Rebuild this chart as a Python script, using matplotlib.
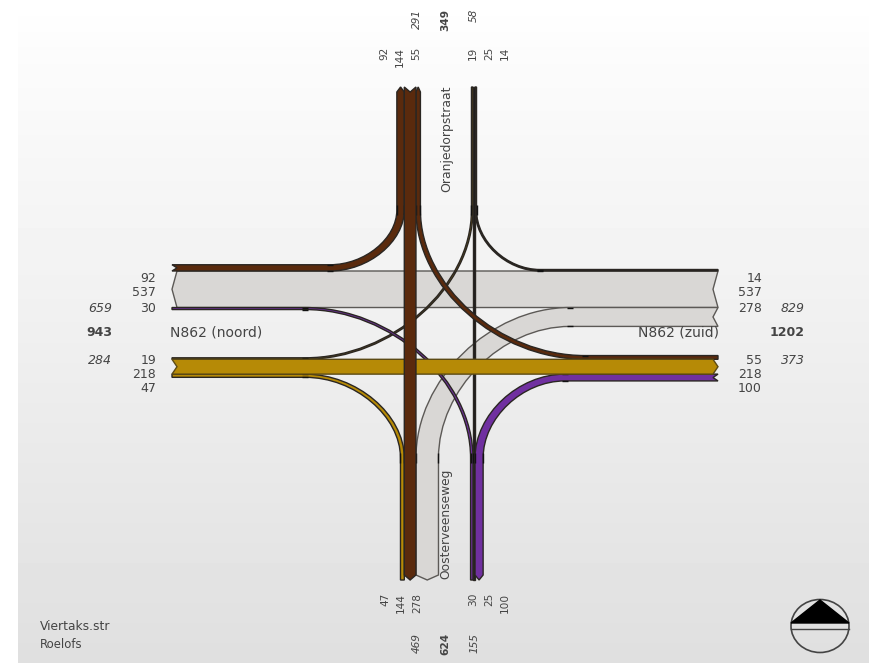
import numpy as np
import matplotlib
matplotlib.use("Agg")
import matplotlib.pyplot as plt
from matplotlib.path import Path
from matplotlib.patches import PathPatch, Ellipse, Polygon

# traffic counts per arm, in stacking order
west_top = [92, 537, 30]
west_low = [19, 218, 47]
east_top = [14, 537, 278]
east_low = [55, 218, 100]
north_left = [92, 144, 55]
north_right = [19, 25, 14]
south_left = [47, 144, 278]
south_right = [30, 25, 100]

west_totals = ["659", "943", "284"]
east_totals = ["829", "1202", "373"]
north_totals = ["291", "349", "58"]
south_totals = ["469", "624", "155"]

# layout in pixels of the original picture
scale_h = 0.068
scale_v = 0.081
min_width = 1.5
x_west, x_east = 172, 718
y_north, y_south = 87, 580
y_bend_n, y_bend_s = 210, 458
cap = 5
kappa = 0.52

GOLD = "#b68a06"
BROWN = "#5a2a0d"
GREY = "#d9d7d5"
PURPLE = "#7030a0"
DARK = "#1c1c1c"
EDGE = "#2a2622"
EDGE_GREY = "#5c5956"


def stack(volumes, anchor, scale):
    # the straight flow (middle one) is anchored, the others stack around it
    w = [max(v * scale, min_width) for v in volumes]
    return [(anchor - w[0], anchor), (anchor, anchor + w[1]),
            (anchor + w[1], anchor + w[1] + w[2])]


arms = {
    "wt": ("w", stack(west_top, 271, scale_h)),
    "wl": ("w", stack(west_low, 359.3, scale_h)),
    "et": ("e", stack(east_top, 271, scale_h)),
    "el": ("e", stack(east_low, 359.3, scale_h)),
    "nl": ("n", stack(north_left, 404.3, scale_v)),
    "nr": ("n", stack(north_right, 473, scale_v)),
    "sl": ("s", stack(south_left, 404.3, scale_v)),
    "sr": ("s", stack(south_right, 473, scale_v)),
}


def cap_points(arm, i, incoming):
    # arrow shaped cut: notch where the flow enters, point where it leaves
    side, bands = arms[arm]
    lo, hi = bands[i]
    inward = {"w": (1, 0), "e": (-1, 0), "n": (0, 1), "s": (0, -1)}[side]
    limit = {"w": x_west, "e": x_east, "n": y_north, "s": y_south}[side]
    corner = cap if not incoming else 0
    mid = cap if incoming else 0
    if hi - lo < 4:
        corner, mid = 0, 0
    def pt(offset, across):
        if side in "we":
            return (limit + inward[0] * offset, across)
        return (across, limit + inward[1] * offset)
    return pt(corner, lo), pt(mid, (lo + hi) / 2), pt(corner, hi)


def draw_flow(ax, a, i, b, j, color, x_bend=None, z=2, edge=EDGE):
    a0, amid, a1 = cap_points(a, i, True)
    b0, bmid, b1 = cap_points(b, j, False)
    if x_bend is None:
        verts = [a0, b0, bmid, b1, a1, amid, a0]
        codes = [Path.MOVETO] + [Path.LINETO] * 5 + [Path.CLOSEPOLY]
        edges = None
    else:
        # a is always the horizontal arm, b the vertical one
        y_bend = y_bend_n if arms[b][0] == "n" else y_bend_s
        same = (arms[a][0] == "w") == (arms[b][0] == "n")
        if not same:
            b0, b1 = b1, b0

        def curve(p, q):
            s = (x_bend, p[1])
            e = (q[0], y_bend)
            c1 = (s[0] + kappa * (e[0] - s[0]), s[1])
            c2 = (e[0], e[1] + kappa * (s[1] - e[1]))
            return s, c1, c2, e

        s0, c01, c02, e0 = curve(a0, b0)
        s1, c11, c12, e1 = curve(a1, b1)
        verts = [a0, s0, c01, c02, e0, b0, bmid, b1, e1, c12, c11, s1, a1, amid, a0]
        codes = ([Path.MOVETO, Path.LINETO] + [Path.CURVE4] * 3 + [Path.LINETO] * 3
                 + [Path.LINETO] + [Path.CURVE4] * 3 + [Path.LINETO] * 2 + [Path.CLOSEPOLY])
        edges = [s0, s1, e0, e1]
    ax.add_patch(PathPatch(Path(verts, codes), facecolor=color, edgecolor=edge,
                           lw=1.0, zorder=z, joinstyle="miter"))
    if edges:
        # dark joints where the turn leaves the straight part
        for (x, y) in edges[:2]:
            ax.plot([x - 3, x + 3], [y, y], color="#111111", lw=1.0, zorder=z + 0.1,
                    solid_capstyle="butt")
        for (x, y) in edges[2:]:
            ax.plot([x, x], [y - 5, y + 5], color="#111111", lw=1.0, zorder=z + 0.1,
                    solid_capstyle="butt")


fig = plt.figure(figsize=(8.69, 6.63), dpi=100)
ax = fig.add_axes([0, 0, 1, 1])
ax.set_xlim(0, 869)
ax.set_ylim(663, 0)
ax.axis("off")

# background fade from white to light grey, white strip on the left
shade = np.interp(np.arange(663), [0, 60, 330, 560, 663], [1.0, 0.985, 0.94, 0.895, 0.875])
ax.imshow(shade[:, None], cmap="gray", vmin=0, vmax=1, aspect="auto",
          extent=[18, 869, 663, 0], zorder=0)
ax.set_xlim(0, 869)
ax.set_ylim(663, 0)

draw_flow(ax, "et", 1, "wt", 1, GREY, z=2, edge=EDGE_GREY)
draw_flow(ax, "et", 2, "sl", 2, GREY, x_bend=570, z=2.2, edge=EDGE_GREY)
draw_flow(ax, "et", 0, "nr", 2, DARK, x_bend=540, z=2.4)
draw_flow(ax, "wl", 0, "nr", 0, GOLD, x_bend=305, z=2.5)
draw_flow(ax, "sr", 1, "nr", 1, DARK, z=2.6)
draw_flow(ax, "wt", 2, "sr", 0, PURPLE, x_bend=305, z=2.7)
draw_flow(ax, "wt", 0, "nl", 0, BROWN, x_bend=330, z=2.8)
draw_flow(ax, "el", 0, "nl", 2, BROWN, x_bend=585, z=2.9)
draw_flow(ax, "wl", 2, "sl", 0, GOLD, x_bend=305, z=3.0)
draw_flow(ax, "el", 2, "sr", 2, PURPLE, x_bend=565, z=3.1)
draw_flow(ax, "wl", 1, "el", 1, GOLD, z=3.5, edge="#5c4a14")
draw_flow(ax, "nl", 1, "sl", 1, BROWN, z=4)

TXT = "#444444"
size_h = 9
size_v = 7.6

for vals, ys, x, ha in [(west_top, [279, 293, 308], 156, "right"),
                        (west_low, [360, 374, 388], 156, "right"),
                        (east_top, [279, 293, 308], 762, "right"),
                        (east_low, [360, 374, 388], 762, "right")]:
    for v, y in zip(vals, ys):
        ax.text(x, y, str(v), ha=ha, va="center", fontsize=size_h, color=TXT, zorder=6)

styles = ["italic", "normal", "italic"]
weights = ["normal", "bold", "normal"]
for vals, x in [(west_totals, 112), (east_totals, 805)]:
    for v, y, st, wt in zip(vals, [308, 333, 360], styles, weights):
        ax.text(x, y, v, ha="right", va="center", fontsize=size_h, style=st, weight=wt,
                color=TXT, zorder=6)

for vals, xs, y in [(north_left, [384, 400, 416], 47), (north_right, [473, 489, 505], 47),
                    (south_left, [385, 401, 417], 593), (south_right, [473, 489, 505], 593)]:
    for v, x in zip(vals, xs):
        ax.text(x, y, str(v), rotation=90, ha="center", va="top", fontsize=size_v,
                color=TXT, zorder=6)

for vals, y in [(north_totals, 9), (south_totals, 633)]:
    for v, x, st, wt in zip(vals, [417, 445, 474], styles, weights):
        ax.text(x, y, v, rotation=90, ha="center", va="top", fontsize=size_v, style=st,
                weight=wt, color=TXT, zorder=6)

ax.text(170, 333, "N862 (noord)", ha="left", va="center", fontsize=10, color=TXT, zorder=6)
ax.text(719, 333, "N862 (zuid)", ha="right", va="center", fontsize=10, color=TXT, zorder=6)
ax.text(447, 86, "Oranjedorpstraat", rotation=90, ha="center", va="top", fontsize=8.9,
        color=TXT, zorder=6)
ax.text(446, 579, "Oosterveenseweg", rotation=90, ha="center", va="bottom", fontsize=8.8,
        color=TXT, zorder=6)
ax.text(40, 626, "Viertaks.str", ha="left", va="center", fontsize=8.8, color=TXT, zorder=6)
ax.text(40, 645, "Roelofs", ha="left", va="center", fontsize=8.4, color=TXT, zorder=6)

# north arrow
ax.add_patch(Ellipse((820, 626), 58, 53, facecolor="none", edgecolor="#444444", lw=1.2, zorder=5))
ax.add_patch(Polygon([(820, 600), (791, 623), (849, 623)], closed=True, facecolor="black",
                     edgecolor="black", zorder=5))
ax.plot([791, 849], [629, 629], color="#444444", lw=1, zorder=5)

fig.savefig("out.png", dpi=100)
